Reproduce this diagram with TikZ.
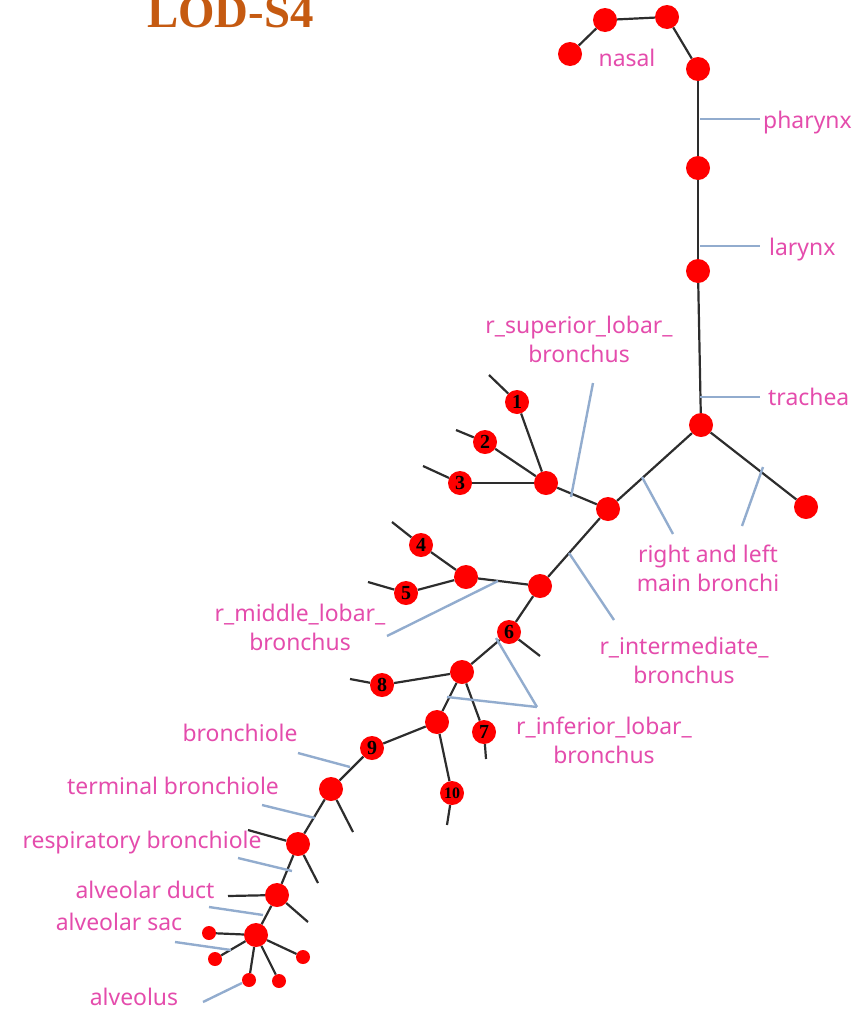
\documentclass[tikz,border=0pt]{standalone}
\usepackage{fontspec}
\setmainfont{Liberation Serif}
\newfontfamily\tagfont{Noto Sans}
\definecolor{lodorange}{RGB}{197,90,17}
\definecolor{tagpink}{RGB}{228,76,172}
\definecolor{leadblue}{RGB}{146,172,206}
\definecolor{pipegray}{RGB}{45,45,45}

\begin{document}
\begin{tikzpicture}
	[x=1bp,y=-1bp,
	 bud/.style={circle,fill=red,inner sep=0pt,minimum size=24bp},
	 num/.style={bud,font=\fontsize{20}{20}\selectfont\bfseries},
	 alv/.style={circle,fill=red,inner sep=0pt,minimum size=14bp},
	 tag/.style={text=tagpink,font=\tagfont\fontsize{23}{29}\selectfont,align=center,inner sep=0pt},
	 pipe/.style={draw=pipegray,line width=2.2bp},
	 lead/.style={draw=leadblue,line width=2.4bp}]
	\useasboundingbox (0,0) rectangle (861,1010);
	
	\node[anchor=base west,inner sep=0pt,text=lodorange,font=\fontsize{47}{47}\selectfont\bfseries] (title) at (147,27) {LOD-S4};
	
	\node[bud] (na1) at (570,54)  {};
	\node[bud] (na2) at (605,20)  {};
	\node[bud] (na3) at (667,17)  {};
	\node[bud] (na4) at (698,69)  {};
	\node[bud] (ph)  at (698,168) {};
	\node[bud] (lx)  at (698,271) {};
	\node[bud] (car) at (701,425) {};
	\node[bud] (rmb) at (608,509) {};
	\node[bud] (lmb) at (806,507) {};
	\node[bud] (rup) at (546,483) {};
	\node[num] (s1)  at (517,402) {1};
	\node[num] (s2)  at (485,442) {2};
	\node[num] (s3)  at (460,483) {3};
	\node[bud] (rint) at (540,586) {};
	\node[bud] (rmid) at (466,577) {};
	\node[num] (s4)  at (421,545) {4};
	\node[num] (s5)  at (406,593) {5};
	\node[num] (s6)  at (509,632) {6};
	\node[bud] (rlow) at (462,672) {};
	\node[num] (s7)  at (484,732) {7};
	\node[num] (s8)  at (382,685) {8};
	\node[bud] (bas) at (437,722) {};
	\node[num] (s9)  at (372,748) {9};
	\node[num,font=\fontsize{16}{16}\selectfont\bfseries] (s10) at (452,793) {10};
	\node[bud] (tb)  at (331,789) {};
	\node[bud] (rb)  at (298,844) {};
	\node[bud] (ad)  at (277,895) {};
	\node[bud] (as)  at (256,935) {};
	\node[alv] (al1) at (209,933) {};
	\node[alv] (al2) at (215,959) {};
	\node[alv] (al3) at (249,980) {};
	\node[alv] (al4) at (279,981) {};
	\node[alv] (al5) at (303,957) {};
	
	\coordinate (e1)  at (489,375);
	\coordinate (e2)  at (456,430);
	\coordinate (e3)  at (423,466);
	\coordinate (e4)  at (392,522);
	\coordinate (e5)  at (368,582);
	\coordinate (e6)  at (540,656);
	\coordinate (e7)  at (486,759);
	\coordinate (e8)  at (350,679);
	\coordinate (e10) at (447,825);
	\coordinate (etb) at (353,832);
	\coordinate (erb1) at (248,830);
	\coordinate (erb2) at (318,883);
	\coordinate (ead1) at (228,896);
	\coordinate (ead2) at (308,922);
	
	\foreach \from/\to in {na1/na2,na2/na3,na3/na4,na4/ph,ph/lx,lx/car,car/rmb,car/lmb,
		rmb/rup,rup/s1,rup/s2,rup/s3,rmb/rint,rint/rmid,rmid/s4,rmid/s5,rint/s6,s6/rlow,
		rlow/s8,rlow/s7,rlow/bas,bas/s9,bas/s10,s9/tb,tb/rb,rb/ad,ad/as,
		as/al1,as/al2,as/al3,as/al4,as/al5,
		s1/e1,s2/e2,s3/e3,s4/e4,s5/e5,s6/e6,s7/e7,s8/e8,s10/e10,tb/etb,rb/erb1,rb/erb2,ad/ead1,ad/ead2}
	\draw[pipe] (\from) -- (\to);
	
	\coordinate (ph-a) at (700,119);  \coordinate (ph-b) at (760,119);
	\coordinate (lx-a) at (700,246);  \coordinate (lx-b) at (760,246);
	\coordinate (tr-a) at (700,397);  \coordinate (tr-b) at (760,397);
	\coordinate (mb1-a) at (642,477); \coordinate (mb1-b) at (673,534);
	\coordinate (mb2-a) at (763,467); \coordinate (mb2-b) at (742,526);
	\coordinate (sup-a) at (571,497); \coordinate (sup-b) at (593,383);
	\coordinate (int-a) at (569,553); \coordinate (int-b) at (614,620);
	\coordinate (mid-a) at (498,581); \coordinate (mid-b) at (387,636);
	\coordinate (inf1-a) at (496,638); \coordinate (inf-b) at (537,707);
	\coordinate (inf2-a) at (447,697);
	\coordinate (bl-a) at (350,767);  \coordinate (bl-b) at (298,753);
	\coordinate (tbl-a) at (315,818); \coordinate (tbl-b) at (262,805);
	\coordinate (rbl-a) at (292,871); \coordinate (rbl-b) at (238,858);
	\coordinate (ad-a) at (263,915);  \coordinate (ad-b) at (209,907);
	\coordinate (as-a) at (231,950);  \coordinate (as-b) at (175,942);
	\coordinate (al-a) at (242,983);  \coordinate (al-b) at (203,1002);
	
	\foreach \a/\b in {ph-a/ph-b,lx-a/lx-b,tr-a/tr-b,mb1-a/mb1-b,mb2-a/mb2-b,sup-a/sup-b,
		int-a/int-b,mid-a/mid-b,inf1-a/inf-b,inf2-a/inf-b,bl-a/bl-b,tbl-a/tbl-b,
		rbl-a/rbl-b,ad-a/ad-b,as-a/as-b,al-a/al-b}
	\draw[lead] (\a) -- (\b);
	
	\node[tag,anchor=base] (tnasal) at (627,66) {nasal};
	\node[tag,anchor=base west] (tph) at (763,128) {pharynx};
	\node[tag,anchor=base west] (tlx) at (769,255) {larynx};
	\node[tag,anchor=base west] (ttr) at (768,405) {trachea};
	\node[tag,anchor=north] (tsup) at (579,316) {r\_superior\_lobar\_\\bronchus};
	\node[tag,anchor=north] (tmb) at (708,545) {right and left\\main bronchi};
	\node[tag,anchor=north] (tmid) at (300,604) {r\_middle\_lobar\_\\bronchus};
	\node[tag,anchor=north] (tint) at (684,637) {r\_intermediate\_\\bronchus};
	\node[tag,anchor=north] (tinf) at (604,717) {r\_inferior\_lobar\_\\bronchus};
	\node[tag,anchor=base] (tbl) at (240,741) {bronchiole};
	\node[tag,anchor=base] (ttbl) at (173,794) {terminal bronchiole};
	\node[tag,anchor=base] (trbl) at (142,848) {respiratory bronchiole};
	\node[tag,anchor=base] (tad) at (145,898) {alveolar duct};
	\node[tag,anchor=base] (tas) at (119,930) {alveolar sac};
	\node[tag,anchor=base] (tal) at (134,1005) {alveolus};
	
\end{tikzpicture}
\end{document}
